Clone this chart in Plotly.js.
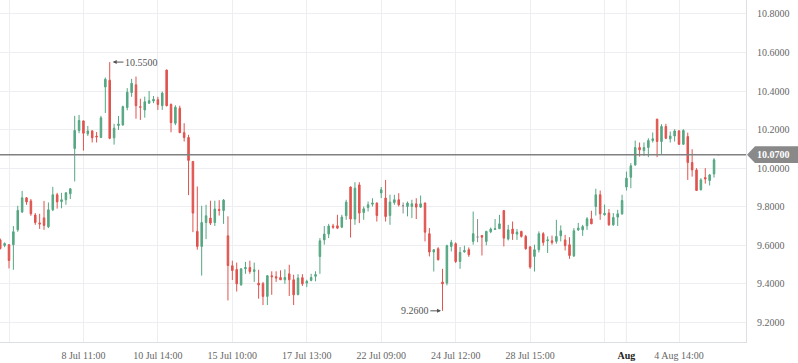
<!DOCTYPE html>
<html><head><meta charset="utf-8">
<script src="https://cdn.plot.ly/plotly-3.0.1.min.js"></script>
<style>html,body{margin:0;padding:0;background:#fff;overflow:hidden;} #chart{width:798px;height:363px;}</style>
</head><body><div id="chart"></div>
<script>
const openP = [9.628,9.599,9.603,9.603,9.680,9.773,9.846,9.830,9.757,9.716,
9.742,9.696,9.784,9.862,9.827,9.836,9.867,10.102,10.195,10.245,
10.178,10.193,10.166,10.159,10.421,10.456,10.157,10.221,10.224,10.314,
10.392,10.432,10.319,10.302,10.337,10.348,10.355,10.324,10.509,10.330,
10.233,10.311,10.184,10.159,10.035,9.672,9.594,9.718,9.741,9.718,
9.786,9.780,9.649,9.494,9.475,9.395,9.478,9.485,9.464,9.403,
9.401,9.335,9.442,9.437,9.433,9.421,9.452,9.421,9.345,9.432,
9.404,9.418,9.439,9.542,9.628,9.658,9.700,9.701,9.694,9.753,
9.902,9.736,9.913,9.770,9.796,9.813,9.819,9.871,9.845,9.754,
9.822,9.836,9.805,9.801,9.801,9.815,9.798,9.819,9.660,9.565,
9.582,9.409,9.404,9.594,9.608,9.516,9.566,9.577,9.620,9.643,
9.651,9.620,9.670,9.682,9.686,9.780,9.632,9.684,9.658,9.672,
9.646,9.591,9.542,9.577,9.660,9.623,9.623,9.620,9.649,9.628,
9.603,9.545,9.680,9.680,9.701,9.737,9.801,9.862,9.758,9.767,
9.706,9.746,9.763,9.902,9.953,10.017,10.107,10.091,10.107,10.143,
10.254,10.138,10.216,10.152,10.167,10.193,10.124,10.164,10.029,9.991,
9.888,9.951,9.936,9.970,10.070];
const highP = [9.635,9.615,9.605,9.700,9.805,9.882,9.850,9.840,9.767,9.763,
9.830,9.822,9.903,9.872,9.872,9.875,9.895,10.271,10.276,10.247,
10.219,10.197,10.187,10.271,10.470,10.550,10.230,10.271,10.324,10.415,
10.463,10.475,10.360,10.371,10.400,10.374,10.370,10.397,10.510,10.336,
10.326,10.324,10.233,10.173,10.037,9.905,9.805,9.810,9.831,9.831,
9.834,9.840,9.750,9.520,9.510,9.480,9.514,9.520,9.510,9.473,
9.410,9.445,9.465,9.465,9.470,9.475,9.499,9.447,9.450,9.450,
9.421,9.452,9.465,9.637,9.700,9.711,9.711,9.758,9.758,9.836,
9.905,9.927,9.927,9.801,9.827,9.844,9.822,9.902,9.939,9.862,
9.862,9.870,9.822,9.827,9.836,9.844,9.858,9.822,9.689,9.580,
9.590,9.478,9.603,9.628,9.615,9.591,9.598,9.589,9.775,9.736,
9.652,9.675,9.692,9.736,9.758,9.780,9.706,9.723,9.684,9.675,
9.654,9.597,9.603,9.672,9.668,9.646,9.650,9.732,9.703,9.654,
9.642,9.689,9.716,9.706,9.746,9.779,9.893,9.884,9.811,9.788,
9.767,9.784,9.862,9.982,10.026,10.143,10.133,10.133,10.155,10.185,
10.256,10.228,10.230,10.190,10.202,10.198,10.202,10.184,10.098,10.000,
9.948,10.000,9.970,10.052,10.070];
const lowP = [9.578,9.590,9.480,9.473,9.670,9.767,9.810,9.753,9.706,9.685,
9.680,9.689,9.777,9.790,9.792,9.810,9.840,9.931,10.181,10.091,
10.167,10.133,10.133,10.157,10.286,10.150,10.122,10.198,10.220,10.300,
10.370,10.256,10.250,10.262,10.333,10.337,10.302,10.302,10.320,10.186,
10.223,10.182,10.138,9.860,9.668,9.577,9.443,9.632,9.705,9.700,
9.754,9.711,9.314,9.420,9.360,9.390,9.452,9.452,9.410,9.323,
9.290,9.290,9.343,9.410,9.420,9.400,9.337,9.290,9.340,9.389,
9.383,9.413,9.413,9.452,9.603,9.637,9.685,9.684,9.689,9.732,
9.640,9.706,9.715,9.732,9.775,9.801,9.723,9.845,9.723,9.706,
9.810,9.801,9.765,9.750,9.741,9.736,9.793,9.620,9.542,9.464,
9.521,9.260,9.392,9.568,9.508,9.478,9.561,9.540,9.603,9.616,
9.547,9.600,9.663,9.680,9.685,9.594,9.625,9.628,9.628,9.640,
9.577,9.478,9.464,9.563,9.598,9.560,9.603,9.608,9.620,9.573,
9.530,9.539,9.674,9.649,9.680,9.710,9.754,9.732,9.754,9.701,
9.701,9.700,9.758,9.884,9.896,10.012,10.060,10.064,10.057,10.133,
10.057,10.074,10.150,10.133,10.138,10.120,10.120,9.939,9.956,9.882,
9.884,9.920,9.910,9.951,10.070];
const closeP = [9.583,9.609,9.521,9.670,9.781,9.846,9.825,9.763,9.718,9.711,
9.703,9.784,9.862,9.825,9.836,9.872,9.893,10.195,10.247,10.181,
10.193,10.157,10.162,10.261,10.461,10.155,10.207,10.229,10.319,10.394,
10.440,10.324,10.316,10.344,10.350,10.357,10.330,10.389,10.324,10.236,
10.316,10.184,10.159,10.040,9.767,9.594,9.718,9.753,9.715,9.788,
9.781,9.834,9.495,9.469,9.400,9.478,9.485,9.464,9.473,9.394,
9.335,9.442,9.437,9.430,9.421,9.433,9.421,9.343,9.430,9.400,
9.413,9.433,9.448,9.623,9.658,9.700,9.694,9.689,9.746,9.824,
9.736,9.896,9.767,9.789,9.810,9.819,9.754,9.888,9.749,9.824,
9.836,9.810,9.805,9.819,9.815,9.798,9.815,9.668,9.565,9.577,
9.525,9.400,9.598,9.615,9.516,9.563,9.573,9.551,9.660,9.643,
9.642,9.672,9.684,9.686,9.711,9.637,9.680,9.660,9.668,9.646,
9.582,9.487,9.577,9.660,9.615,9.628,9.615,9.646,9.675,9.598,
9.547,9.675,9.689,9.697,9.737,9.711,9.862,9.763,9.765,9.706,
9.744,9.763,9.832,9.948,10.012,10.107,10.095,10.107,10.143,10.152,
10.138,10.216,10.155,10.167,10.193,10.124,10.195,10.029,9.991,9.884,
9.939,9.944,9.965,10.043,10.070];

const tickIndex = [2,19,36,53,70,87,104,121,138,143,155];
const tickLabels = ['', '8 Jul 11:00', '10 Jul 14:00', '15 Jul 10:00', '17 Jul 13:00',
  '22 Jul 09:00', '24 Jul 12:00', '28 Jul 15:00', '', "<span style='color:#222'><b>Aug</b></span>", '4 Aug 14:00'];
const monthIndex = 143;
const yTickVals = [9.2, 9.4, 9.6, 9.8, 10.0, 10.2, 10.4, 10.6, 10.8];
const yTickLabels = yTickVals.map(v => v.toFixed(4));
const lastPrice = 10.07;
const maxIdx = 25;
const minIdx = 101;

const GREEN = '#55a782', RED = '#e0534e', GRAY = '#8c8c8c';
const idx = openP.map((_, i) => i);
function subset(pred) {
  const s = {x: [], open: [], high: [], low: [], close: []};
  idx.forEach(i => { if (pred(i)) { s.x.push(i); s.open.push(openP[i]); s.high.push(highP[i]); s.low.push(lowP[i]); s.close.push(closeP[i]); } });
  return s;
}
function cs(s, color) {
  return {type: 'candlestick', x: s.x, open: s.open, high: s.high, low: s.low, close: s.close,
    increasing: {line: {color: color, width: 1}, fillcolor: color},
    decreasing: {line: {color: color, width: 1}, fillcolor: color},
    whiskerwidth: 0, hoverinfo: 'skip', showlegend: false};
}
const traces = [
  cs(subset(i => closeP[i] > openP[i]), GREEN),
  cs(subset(i => closeP[i] < openP[i]), RED),
  cs(subset(i => closeP[i] === openP[i]), GRAY)
];

const FONT = 'Liberation Serif, Times New Roman, serif';
const layout = {
  width: 798, height: 363,
  margin: {l: 0, r: 52, t: 0, b: 21, pad: 0},
  paper_bgcolor: '#fff', plot_bgcolor: '#fff',
  showlegend: false,
  boxgap: 0.5,
  font: {family: FONT, size: 10, color: '#666'},
  xaxis: {range: [-0.055, 170.30], tickmode: 'array', tickvals: tickIndex, ticktext: tickLabels,
    showgrid: true, gridcolor: '#eceef1', gridwidth: 1, showline: true, linecolor: '#dcdfe3',
    ticks: 'outside', ticklen: 4, tickcolor: 'rgba(0,0,0,0)', zeroline: false,
    rangeslider: {visible: false}, fixedrange: true, tickfont: {family: FONT, size: 10, color: '#666'}},
  yaxis: {side: 'right', range: [9.0984, 10.872], tickmode: 'array', tickvals: yTickVals, ticktext: yTickLabels,
    showgrid: true, gridcolor: '#eceef1', gridwidth: 1, showline: true, linecolor: '#dcdfe3',
    ticks: 'outside', ticklen: 8, tickcolor: 'rgba(0,0,0,0)', zeroline: false, fixedrange: true,
    tickfont: {family: FONT, size: 10, color: '#666'}},
  shapes: [
    {type: 'line', xref: 'x', yref: 'paper', x0: monthIndex, x1: monthIndex, y0: 0, y1: 1,
     line: {color: '#d2d4d8', width: 1}, layer: 'below'},
    {type: 'line', xref: 'paper', yref: 'y', x0: 0, x1: 1, y0: lastPrice, y1: lastPrice,
     line: {color: '#808080', width: 1.5}, layer: 'above'},
    {type: 'path', xref: 'paper', xsizemode: 'pixel', xanchor: 1, yref: 'y', ysizemode: 'pixel', yanchor: lastPrice,
     path: 'M1,0 L9,8.3 L52,8.3 L52,-8.3 L9,-8.3 Z', fillcolor: '#898989', line: {width: 0}, layer: 'above'}
  ],
  annotations: [
    {xref: 'paper', yref: 'y', x: 1, y: lastPrice, xanchor: 'left', yanchor: 'middle', xshift: 9,
     text: '<b>' + lastPrice.toFixed(4) + '</b>', showarrow: false, font: {family: FONT, size: 10, color: '#fff'}},
    {xref: 'x', yref: 'y', x: maxIdx, y: highP[maxIdx], text: highP[maxIdx].toFixed(4),
     showarrow: true, ax: 31.8, ay: 0, arrowhead: 2, arrowsize: 0.8, arrowwidth: 1, arrowcolor: '#555', standoff: 3,
     font: {family: FONT, size: 10, color: '#555'}},
    {xref: 'x', yref: 'y', x: minIdx, y: lowP[minIdx], text: lowP[minIdx].toFixed(4),
     showarrow: true, ax: -27.7, ay: 0, arrowhead: 2, arrowsize: 0.8, arrowwidth: 1, arrowcolor: '#555', standoff: 1.5,
     font: {family: FONT, size: 10, color: '#555'}}
  ]
};
Plotly.newPlot('chart', traces, layout, {displayModeBar: false, staticPlot: true});
</script>
</body></html>
